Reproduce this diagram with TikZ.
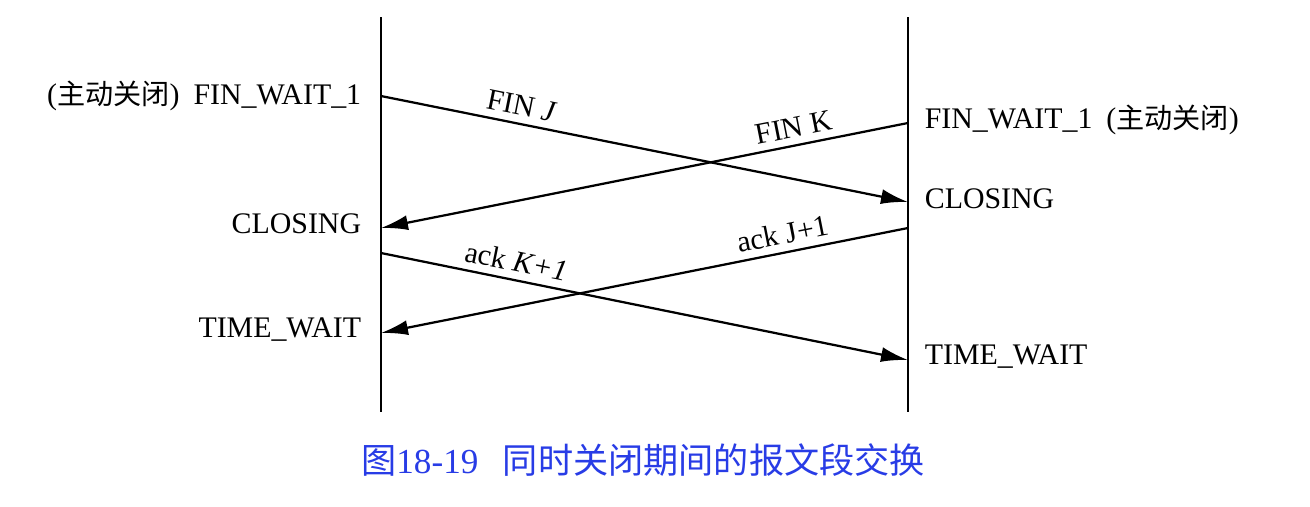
\documentclass[tikz,border=0pt]{standalone}
\usepackage{fontspec}
\setmainfont{Liberation Serif}
\newfontfamily\cjk{Noto Sans CJK SC}
\usetikzlibrary{arrows.meta}
\definecolor{capblue}{RGB}{40,60,230}
\newcommand{\zdgb}{{\cjk\fontsize{16}{18}\selectfont 主动关闭}}

\begin{document}
\begin{tikzpicture}[line width=0.4mm, font=\fontsize{17}{20}\selectfont,
    msg/.style={-{Latex[length=5.4mm,width=3mm]}, line width=0.45mm},
    lbl/.style={sloped, above, inner sep=4pt}]
  \useasboundingbox (0,0) rectangle (26.2,10.12);

  % time lines
  \coordinate (lt) at (7.62,9.78);
  \coordinate (lb) at (7.62,1.88);
  \coordinate (rt) at (18.16,9.78);
  \coordinate (rb) at (18.16,1.88);
  \draw (lt) -- (lb);
  \draw (rt) -- (rb);

  % segment ends
  \coordinate (finj) at (7.62,8.20);
  \coordinate (finjR) at (18.16,6.08);
  \coordinate (fink) at (18.16,7.66);
  \coordinate (finkL) at (7.62,5.56);
  \coordinate (ackk) at (7.62,5.06);
  \coordinate (ackkR) at (18.16,2.92);
  \coordinate (ackj) at (18.16,5.56);
  \coordinate (ackjL) at (7.62,3.46);

  % states
  \node[anchor=east] (finL) at (7.36,8.20) {(\zdgb)\hspace{8pt}FIN\_WAIT\_1};
  \node[anchor=east] (closL) at (7.36,5.64) {CLOSING};
  \node[anchor=east] (timeL) at (7.36,3.52) {TIME\_WAIT};
  \node[anchor=west] (finR) at (18.36,7.72) {FIN\_WAIT\_1\hspace{8pt}(\zdgb)};
  \node[anchor=west] (closR) at (18.36,6.14) {CLOSING};
  \node[anchor=west] (timeR) at (18.36,2.98) {TIME\_WAIT};

  \draw[msg] (finj) -- node[lbl, pos=0.26] {FIN \textit{J}} (finjR);
  \draw[msg] (fink) -- node[lbl, pos=0.21] {FIN K} (finkL);
  \draw[msg] (ackk) -- node[lbl, pos=0.25] {ack \textit{K+1}} (ackkR);
  \draw[msg] (ackj) -- node[lbl, pos=0.23] {ack J+1} (ackjL);

  \node[text=capblue] (cap) at (12.86,0.92)
    {{\cjk\fontsize{20}{24}\selectfont 图}{\fontsize{20}{24}\selectfont 18-19}\hspace{14pt}{\cjk\fontsize{20}{24}\selectfont 同时关闭期间的报文段交换}};
\end{tikzpicture}
\end{document}
